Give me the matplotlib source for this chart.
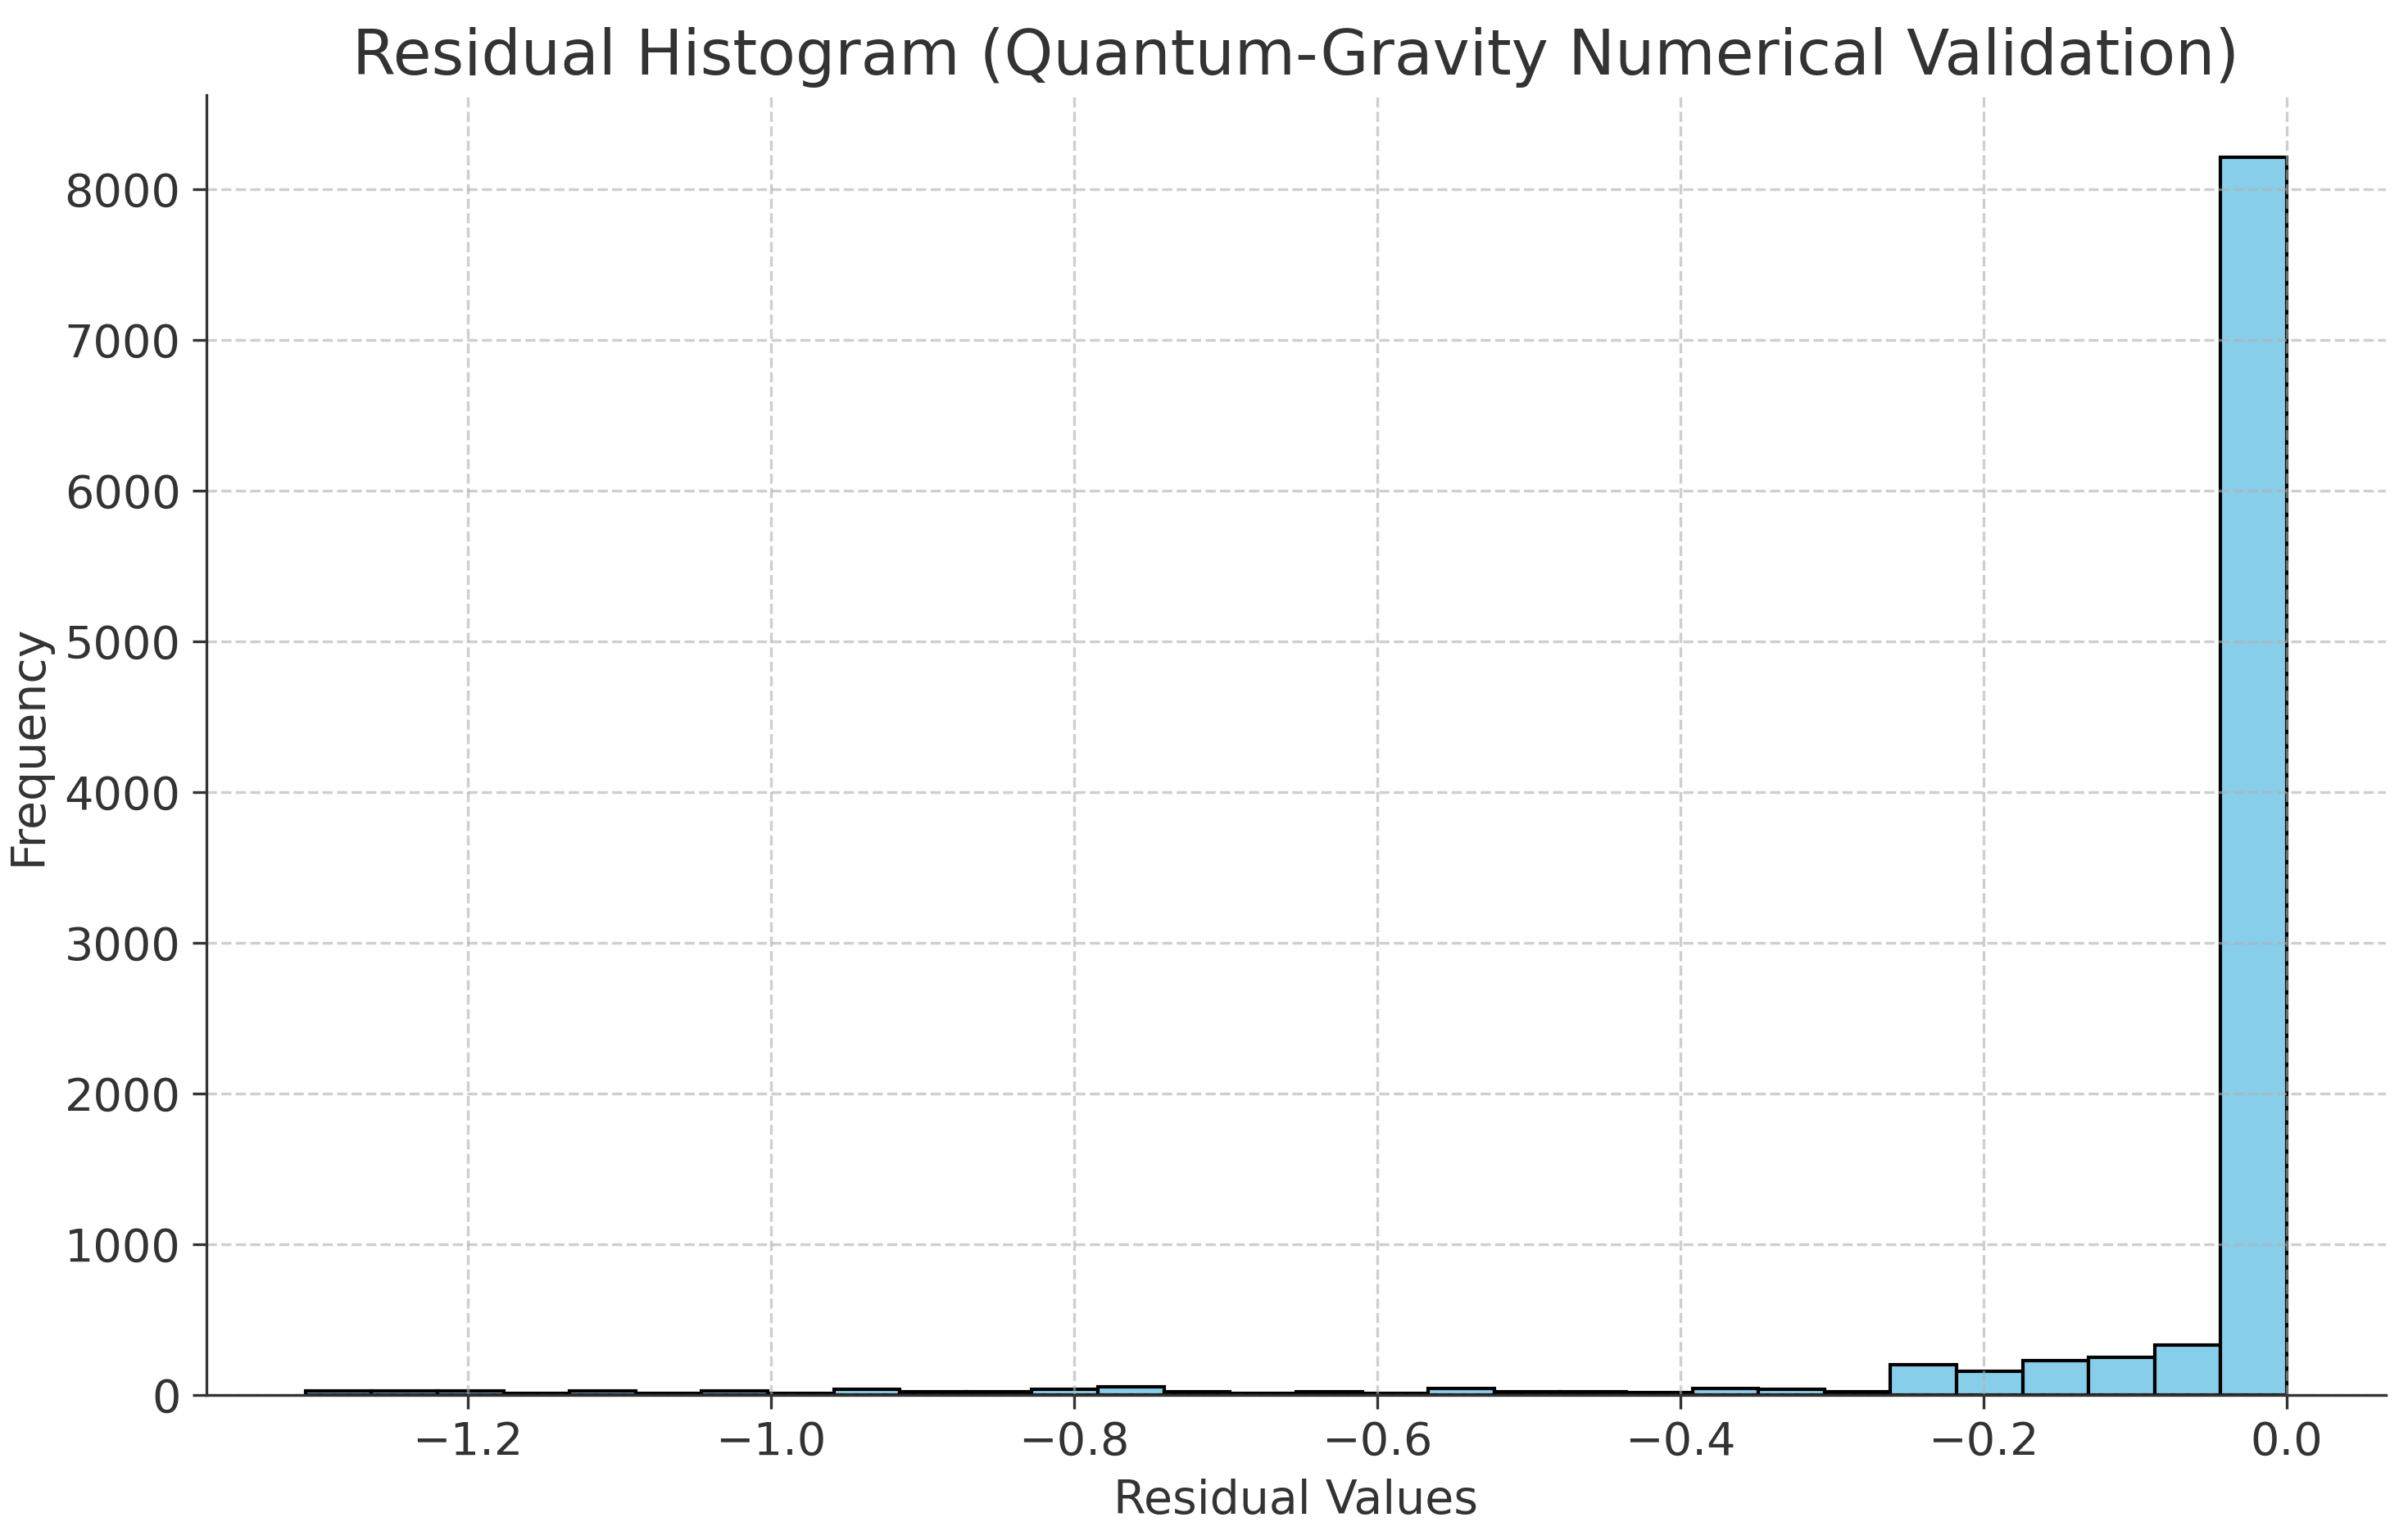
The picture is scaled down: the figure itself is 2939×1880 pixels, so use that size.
import numpy as np
import matplotlib
matplotlib.use('Agg')
import matplotlib.pyplot as plt

# residual histogram (30 equal-width bins)
bin_lo = -1.307
bin_hi = 0.0
counts = [24, 24, 24, 8, 26, 8, 24, 8, 40, 22,
          22, 40, 52, 22, 8, 22, 8, 45, 22, 22,
          15, 45, 38, 22, 200, 155, 226, 248, 330, 8213]

title = 'Residual Histogram (Quantum-Gravity Numerical Validation)'
xlabel = 'Residual Values'
ylabel = 'Frequency'

edges = np.linspace(bin_lo, bin_hi, len(counts) + 1)
centers = 0.5 * (edges[:-1] + edges[1:])

plt.rcParams['font.family'] = 'DejaVu Sans'
plt.rcParams['text.color'] = '#333333'
plt.rcParams['axes.labelcolor'] = '#333333'
plt.rcParams['xtick.color'] = '#333333'
plt.rcParams['ytick.color'] = '#333333'

fig = plt.figure(figsize=(2939/300, 1880/300), dpi=300)
ax = fig.add_axes([0.0857, 0.0942, 0.9051, 0.8441])

ax.hist(centers, bins=edges, weights=counts, color='skyblue', edgecolor='black')

ax.set_title(title, fontsize=18.3, color='#333333')
ax.set_xlabel(xlabel, fontsize=13.7)
ax.set_ylabel(ylabel, fontsize=13.7)
ax.tick_params(labelsize=13.4, length=4)
ax.grid(True, linestyle='--', alpha=0.6)
for s in ['top', 'right']:
    ax.spines[s].set_visible(False)
for s in ['left', 'bottom']:
    ax.spines[s].set_color('#333333')

fig.savefig('out.png', dpi=300)
